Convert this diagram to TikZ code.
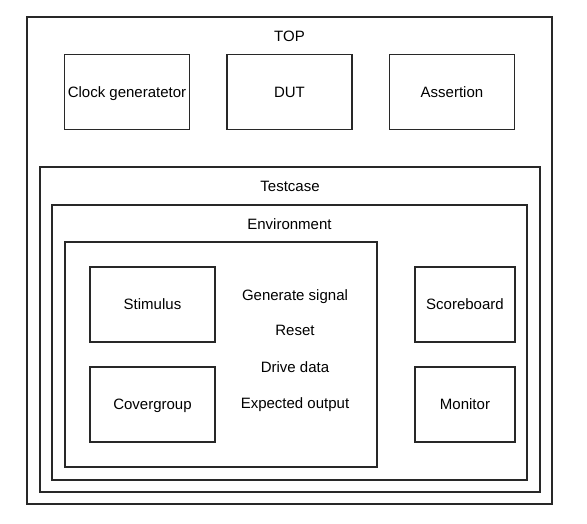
\documentclass[tikz,border=0pt]{standalone}
\usepackage{fontspec}
\setmainfont{Liberation Sans}
\usetikzlibrary{positioning}
\definecolor{boxline}{RGB}{40, 40, 40}
\tikzset{
    frame/.style={rectangle, draw=boxline, line width=1.2pt, fill=none, inner sep=0pt},
    block/.style={frame, minimum width=125pt, minimum height=75pt, align=center, text depth=0pt, font=\fontsize{15}{18}\selectfont},
    smallblock/.style={block, minimum width=100pt},
    caption/.style={font=\fontsize{15}{18}\selectfont, text depth=0pt, inner sep=0pt}
}
\begin{document}
\begin{tikzpicture}[x=1pt, y=-1pt]
    \useasboundingbox (0,0) rectangle (587,523);
    % outer frames
    \node (top) [frame, minimum width=525pt, minimum height=487pt] at (289.5,260.5) {};
    \node (toplbl) [caption] at (289.5,36) {TOP};
    \node (clk) [block] at (127,92) {Clock generatetor};
    \node (dut) [block, right=36.3pt of clk] {DUT};
    \node (assert) [block, right=36.3pt of dut] {Assertion};

    \node (testcase) [frame, minimum width=500pt, minimum height=325pt] at (290,329.5) {};
    \node (tclbl) [caption] at (290,186) {Testcase};
    \node (env) [frame, minimum width=475pt, minimum height=275pt] at (289.5,342.5) {};
    \node (envlbl) [caption] at (289.5,224) {Environment};

    % generator part
    \node (gen) [frame, minimum width=312pt, minimum height=225pt] at (221,354.5) {};
    \node (stim) [block] at (152.5,304.5) {Stimulus};
    \node (cover) [block, below=23.8pt of stim] {Covergroup};
    \node (sig) [caption] at (295,295) {Generate signal};
    \node (rst) [caption] at (295,330) {Reset};
    \node (drv) [caption] at (295,367) {Drive data};
    \node (exp) [caption] at (295,403) {Expected output};

    \node (score) [smallblock] at (465,304.5) {Scoreboard};
    \node (mon) [smallblock, below=23.8pt of score] {Monitor};
\end{tikzpicture}
\end{document}
